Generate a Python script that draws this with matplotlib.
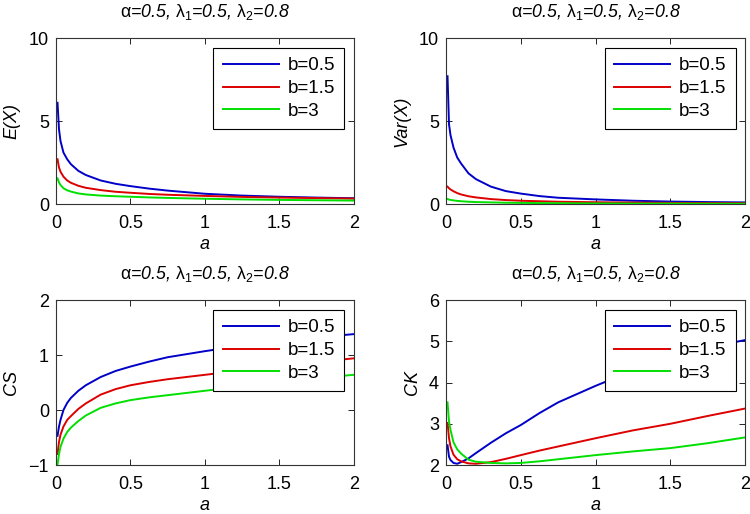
import numpy as np
import matplotlib
matplotlib.use('Agg')
import matplotlib.pyplot as plt

plt.rcParams['font.family'] = ['Liberation Sans', 'DejaVu Sans']
plt.rcParams['mathtext.fontset'] = 'custom'
plt.rcParams['mathtext.rm'] = 'Liberation Sans'
plt.rcParams['mathtext.it'] = 'Liberation Sans:italic'

# values (a on the x axis)
a = [0.01, 0.02, 0.03, 0.05, 0.075, 0.1, 0.15, 0.2, 0.3, 0.4, 0.5,
     0.625, 0.75, 1.0, 1.25, 1.5, 1.75, 2.0]
labels = ['b=0.5', 'b=1.5', 'b=3']

ex_b05 = [6.1, 4.5, 3.8, 3.1, 2.7, 2.4, 2.0, 1.75, 1.42, 1.22, 1.08,
          0.93, 0.81, 0.62, 0.51, 0.44, 0.39, 0.35]
ex_b15 = [2.7, 2.2, 1.95, 1.65, 1.42, 1.28, 1.1, 0.98, 0.84, 0.74, 0.68,
          0.61, 0.56, 0.49, 0.43, 0.39, 0.36, 0.33]
ex_b3 = [1.55, 1.3, 1.15, 0.95, 0.83, 0.75, 0.64, 0.58, 0.51, 0.47, 0.44,
         0.40, 0.37, 0.32, 0.28, 0.25, 0.23, 0.21]

var_b05 = [7.7, 4.8, 4.15, 3.4, 2.8, 2.45, 1.85, 1.5, 1.05, 0.78, 0.63,
           0.48, 0.38, 0.28, 0.2, 0.15, 0.12, 0.1]
var_b15 = [1.05, 0.95, 0.88, 0.77, 0.66, 0.58, 0.47, 0.4, 0.3, 0.24, 0.2,
           0.17, 0.14, 0.11, 0.09, 0.07, 0.06, 0.05]
var_b3 = [0.3, 0.27, 0.25, 0.22, 0.19, 0.17, 0.14, 0.12, 0.1, 0.08, 0.07,
          0.06, 0.05, 0.04, 0.03, 0.03, 0.02, 0.02]

cs_b05 = [-0.47, -0.3, -0.18, 0.0, 0.13, 0.22, 0.35, 0.45, 0.6, 0.71, 0.79,
          0.88, 0.96, 1.07, 1.17, 1.25, 1.32, 1.38]
cs_b15 = [-0.8, -0.58, -0.45, -0.3, -0.18, -0.11, 0.02, 0.12, 0.28, 0.38, 0.45,
          0.51, 0.56, 0.64, 0.72, 0.8, 0.87, 0.94]
cs_b3 = [-1.0, -0.8, -0.67, -0.52, -0.4, -0.32, -0.2, -0.1, 0.04, 0.12, 0.18,
         0.23, 0.27, 0.35, 0.43, 0.51, 0.58, 0.64]

ck_b05 = [2.48, 2.2, 2.12, 2.05, 2.03, 2.07, 2.16, 2.29, 2.54, 2.77, 2.97,
          3.26, 3.52, 3.92, 4.29, 4.6, 4.85, 5.03]
ck_b15 = [3.02, 2.65, 2.45, 2.25, 2.14, 2.09, 2.04, 2.03, 2.07, 2.15, 2.24,
          2.35, 2.45, 2.65, 2.84, 3.0, 3.19, 3.37]
ck_b3 = [3.52, 3.05, 2.85, 2.55, 2.38, 2.28, 2.13, 2.08, 2.05, 2.04, 2.05,
         2.09, 2.14, 2.24, 2.33, 2.41, 2.53, 2.67]

colors = ['#0000c8', '#dd0000', '#00e000']
title = (r'$\mathrm{\alpha}$=0.5, $\mathrm{\lambda}_{\mathit{1}}$=0.5, '
         r'$\mathrm{\lambda}_{\mathit{2}}$=0.8')

panels = [
    ([0.0747, 0.603, 0.397, 0.323], [ex_b05, ex_b15, ex_b3], 'E(X)', (0, 10), [0, 5, 10]),
    ([0.5947, 0.603, 0.399, 0.323], [var_b05, var_b15, var_b3], 'Var(X)', (0, 10), [0, 5, 10]),
    ([0.0747, 0.0953, 0.397, 0.321], [cs_b05, cs_b15, cs_b3], 'CS', (-1, 2), [-1, 0, 1, 2]),
    ([0.5947, 0.0953, 0.399, 0.321], [ck_b05, ck_b15, ck_b3], 'CK', (2, 6), [2, 3, 4, 5, 6]),
]

fig = plt.figure(figsize=(7.5, 5.14), dpi=100)
for rect, series, ylab, ylim, yticks in panels:
    ax = fig.add_axes(rect)
    for vals, c, lab in zip(series, colors, labels):
        ax.plot(a, vals, color=c, lw=1.4, label=lab)
    ax.set_xlim(0, 2)
    ax.set_ylim(*ylim)
    ax.set_xticks([0, 0.5, 1, 1.5, 2])
    ax.set_xticklabels(['0', '0.5', '1', '1.5', '2'])
    ax.set_yticks(yticks)
    ax.tick_params(direction='in', top=True, right=True, labelsize=13,
                   length=4, width=0.6)
    ax.tick_params(axis='x', pad=8)
    ax.tick_params(axis='y', pad=5)
    for sp in ax.spines.values():
        sp.set_linewidth(0.8)
        sp.set_color('#333333')
    ax.set_xlabel('a', fontsize=13, style='italic', labelpad=3)
    ax.set_ylabel(ylab, fontsize=13, style='italic', labelpad=6)
    ax.set_title(title, fontsize=12.8, style='italic', pad=15)
    leg = ax.legend(loc='upper right', bbox_to_anchor=(0.968, 0.94),
                    borderaxespad=0, fontsize=13.5, handlelength=3.0,
                    fancybox=False, framealpha=1, borderpad=0.5,
                    labelspacing=0.3, handletextpad=0.45)
    leg.get_frame().set_edgecolor('black')
    leg.get_frame().set_linewidth(0.8)

fig.savefig('out.png', dpi=100)
